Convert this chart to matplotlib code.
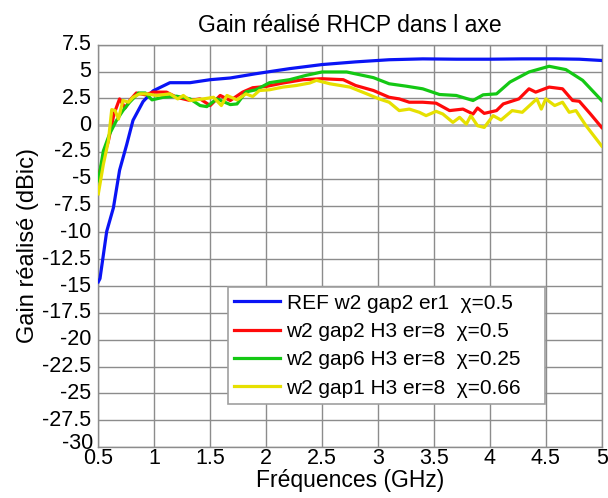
import matplotlib
matplotlib.use("Agg")
import matplotlib.pyplot as plt

plt.rcParams['font.family'] = ['Liberation Sans', 'DejaVu Sans']

title = "Gain réalisé RHCP dans l axe"
xlabel = "Fréquences (GHz)"
ylabel = "Gain réalisé (dBic)"

labels = ["REF w2 gap2 er1  χ=0.5",
          "w2 gap2 H3 er=8  χ=0.5",
          "w2 gap6 H3 er=8  χ=0.25",
          "w2 gap1 H3 er=8  χ=0.66"]

blue_x = [0.5, 0.515, 0.575, 0.635, 0.69, 0.754, 0.81, 0.9, 0.99, 1.14, 1.32, 1.5, 1.68, 1.91,
          2.21, 2.5, 2.8, 3.1, 3.4, 3.7, 4.0, 4.29, 4.59, 4.8, 5.0]
blue_y = [-14.6, -14.3, -9.9, -7.7, -4.2, -1.8, 0.45, 2.2, 3.2, 3.96, 3.96, 4.24, 4.4, 4.8,
          5.27, 5.65, 5.9, 6.1, 6.18, 6.15, 6.15, 6.18, 6.18, 6.15, 6.03]

red_x = [0.5, 0.545, 0.59, 0.64, 0.69, 0.74, 0.78, 0.84, 0.92, 0.99, 1.11, 1.2, 1.32, 1.41, 1.5,
         1.59, 1.68, 1.79, 1.88, 2.0, 2.15, 2.33, 2.5, 2.69, 2.8, 2.96, 3.1, 3.19, 3.28, 3.4,
         3.52, 3.64, 3.76, 3.85, 3.89, 3.95, 4.06, 4.12, 4.26, 4.35, 4.41, 4.53, 4.65, 4.74,
         4.8, 4.9, 5.0]
red_y = [-4.9, -3.0, -1.47, 1.04, 2.45, 1.6, 2.3, 3.0, 2.83, 3.08, 3.08, 2.6, 2.3, 2.45, 1.83,
         2.77, 2.3, 3.08, 3.49, 3.61, 3.93, 4.24, 4.33, 4.24, 3.7, 3.23, 2.6, 2.45, 2.14, 2.14,
         2.05, 1.36, 1.5, 1.04, 1.6, 1.1, 1.36, 1.98, 2.45, 3.39, 3.08, 3.55, 3.39, 2.3,
         2.23, 1.04, -0.21]

green_x = [0.5, 0.545, 0.6, 0.66, 0.72, 0.78, 0.86, 0.92, 0.98, 1.08, 1.2, 1.32, 1.41, 1.47,
           1.56, 1.68, 1.74, 1.82, 1.91, 2.03, 2.21, 2.36, 2.5, 2.72, 2.96, 3.1, 3.25, 3.4,
           3.55, 3.7, 3.85, 3.94, 4.06, 4.18, 4.35, 4.53, 4.68, 4.83, 5.0]
green_y = [-5.2, -2.4, -0.84, 0.4, 1.36, 2.14, 3.0, 3.0, 2.36, 2.6, 2.7, 2.45, 1.83, 1.73,
           2.45, 1.92, 1.98, 3.1, 3.3, 3.96, 4.24, 4.65, 4.96, 4.96, 4.43, 3.86, 3.64, 3.39,
           2.86, 2.77, 2.3, 2.83, 2.92, 4.02, 4.96, 5.49, 5.18, 4.18, 2.3]

yellow_x = [0.5, 0.545, 0.59, 0.62, 0.65, 0.68, 0.72, 0.77, 0.81, 0.87, 0.93, 1.02, 1.14, 1.21,
            1.26, 1.32, 1.44, 1.53, 1.6, 1.65, 1.74, 1.82, 1.88, 1.94, 2.03, 2.15, 2.27, 2.39,
            2.45, 2.57, 2.75, 2.9, 3.01, 3.1, 3.19, 3.28, 3.37, 3.43, 3.52, 3.58, 3.67, 3.73,
            3.79, 3.83, 3.89, 3.95, 4.03, 4.1, 4.2, 4.29, 4.42, 4.46, 4.5, 4.58, 4.65, 4.71,
            4.77, 4.86, 5.0]
yellow_y = [-6.4, -3.66, -1.47, 1.45, 1.36, 0.57, 2.3, 2.14, 2.6, 2.92, 2.92, 2.77, 2.92, 2.45,
            2.77, 2.3, 2.45, 2.6, 1.83, 2.77, 2.36, 2.92, 2.67, 3.23, 3.3, 3.55, 3.7, 3.93,
            4.18, 3.86, 3.55, 2.92, 2.45, 2.14, 1.36, 1.5, 1.2, 0.89, 1.29, 1.04, 0.26, 0.73,
            0.1, 0.89, -0.05, -0.21, 0.89, 0.48, 1.36, 1.2, 2.45, 1.5, 2.45, 1.83, 2.14, 1.2,
            1.36, -0.05, -1.94]

xticks = [0.5, 1, 1.5, 2, 2.5, 3, 3.5, 4, 4.5, 5]
yticks = [7.5, 5, 2.5, 0, -2.5, -5, -7.5, -10, -12.5, -15, -17.5, -20, -22.5, -25, -27.5, -30]

fig = plt.figure(figsize=(6.08, 4.98), dpi=100)
ax = fig.add_axes([0.1617, 0.1024, 0.8279, 0.8078])

ax.set_xlim(0.5, 5)
ax.set_ylim(-30, 7.5)
ax.set_xticks(xticks)
ax.set_xticklabels([f"{t:g}" for t in xticks])
ax.set_yticks(yticks)
# the lowest label is drawn separately, nudged up like in the reference
ax.set_yticklabels([f"{t:g}" if t != yticks[-1] else "" for t in yticks])
ax.tick_params(length=0, labelsize=15.5, colors='black')
ax.tick_params(axis='x', pad=1)
ax.tick_params(axis='y', pad=5)
for lab in ax.get_yticklabels():
    lab.set_verticalalignment('center')
ax.annotate(f"{yticks[-1]:g}", xy=(0, yticks[-1]), xycoords=('axes fraction', 'data'),
            xytext=(-3.6, 2.6), textcoords='offset points', ha='right', va='center',
            fontsize=15.5)

ax.grid(True, color='#8c8c8c', linewidth=1.0)
ax.axhline(0, color='#b4b4b4', linewidth=2.0, zorder=1)
ax.set_axisbelow(True)
for s in ax.spines.values():
    s.set_color('#8c8c8c')
    s.set_linewidth(1.0)

lw = 2.3
ax.plot(blue_x, blue_y, color='#0a14f5', lw=lw, label=labels[0], zorder=3)
ax.plot(red_x, red_y, color='#ff0a0a', lw=lw, label=labels[1], zorder=3)
ax.plot(green_x, green_y, color='#14c814', lw=lw, label=labels[2], zorder=3)
ax.plot(yellow_x, yellow_y, color='#e6e000', lw=lw, label=labels[3], zorder=4)

leg = ax.legend(loc='lower left', bbox_to_anchor=(0.258, 0.107, 0.629, 0.298),
                mode='expand', fontsize=15, frameon=True, fancybox=False,
                edgecolor='#a0a0a0', framealpha=1, handlelength=2.2,
                handletextpad=0.3, borderpad=0.3, labelspacing=0.45, borderaxespad=0)
leg.get_frame().set_linewidth(1.2)

ax.set_title(title, fontsize=16.5, pad=9)
ax.set_xlabel(xlabel, fontsize=16.5, labelpad=0)
ax.set_ylabel(ylabel, fontsize=17, labelpad=2)

fig.savefig("out.png", dpi=100)
